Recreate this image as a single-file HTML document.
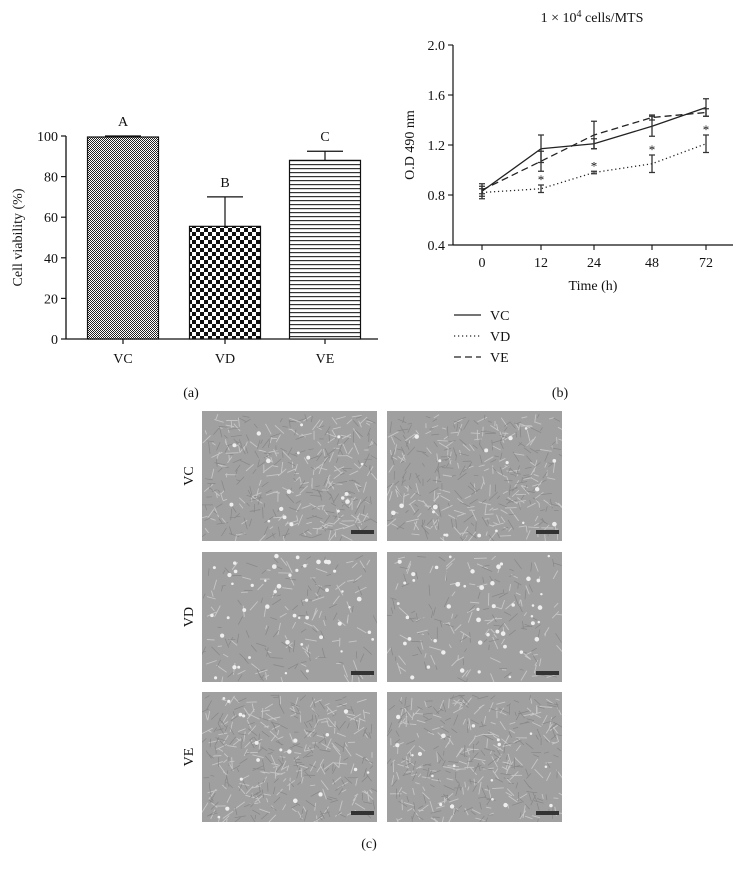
<!DOCTYPE html>
<html><head><meta charset="utf-8">
<style>
body{margin:0;background:#fff;}
svg text{font-family:"Liberation Serif",serif;fill:#111;}
</style></head>
<body>
<svg id="root" width="745" height="877" viewBox="0 0 745 877" xmlns="http://www.w3.org/2000/svg">
<defs>
<pattern id="pVC" width="2" height="2" patternUnits="userSpaceOnUse"><rect width="2" height="2" fill="#fff"/><rect width="1" height="1" fill="#222"/><rect x="1" y="1" width="1" height="1" fill="#222"/></pattern>
<pattern id="pVD" width="8" height="8" patternUnits="userSpaceOnUse"><rect width="8" height="8" fill="#fff"/><rect width="4" height="4" fill="#111"/><rect x="4" y="4" width="4" height="4" fill="#111"/></pattern>
<pattern id="pVE" width="4" height="4" patternUnits="userSpaceOnUse"><rect width="4" height="4" fill="#fff"/><rect y="0" width="4" height="1.2" fill="#333"/></pattern>
</defs>
<g id="barChart"></g>
<g id="lineChart"></g>
<text x="191" y="397" font-size="14" text-anchor="middle">(a)</text>
<text x="560" y="397" font-size="14" text-anchor="middle">(b)</text>
<text x="369" y="848" font-size="14" text-anchor="middle">(c)</text>
<g id="photos"></g>
</svg>
<script>
const NS="http://www.w3.org/2000/svg";
function mk(p,tag,a,txt){const e=document.createElementNS(NS,tag);for(const k in a)e.setAttribute(k,a[k]);if(txt!==undefined)e.textContent=txt;p.appendChild(e);return e;}

// ---- Bar chart data ----
const barCats=["VC","VD","VE"];
const barVals=[99.5,55.5,88];
const barErr=[0.5,14.5,4.5];
const barLetters=["A","B","C"];
const barTicks=[0,20,40,60,80,100];
const barFills=["url(#pVC)","url(#pVD)","url(#pVE)"];

// ---- Line chart data ----
const timeCats=["0","12","24","48","72"];
const vcVals=[0.83,1.17,1.21,1.35,1.50];
const vcErr=[0.06,0.11,0.04,0.08,0.07];
const vdVals=[0.82,0.85,0.98,1.05,1.21];
const vdErr=[0.03,0.03,0.01,0.07,0.07];
const veVals=[0.84,1.07,1.28,1.42,1.46];
const veErr=[0.03,0.08,0.11,0.02,0.03];
const vdStar=[false,true,true,true,true];
const odTicks=[0.4,0.8,1.2,1.6,2.0];

// bar chart
(function(){
  const g=document.getElementById('barChart');
  const x0=66,x1=378,yB=339,yT=136;
  const y=v=>yB-(v/100)*(yB-yT);
  const centers=[123,225,325],bw=71;
  mk(g,'line',{x1:x0,y1:yB,x2:x1,y2:yB,stroke:'#111','stroke-width':1.3,});
  mk(g,'line',{x1:x0,y1:yB,x2:x0,y2:yT,stroke:'#111','stroke-width':1.3,});
  barTicks.forEach(t=>{
    mk(g,'line',{x1:x0-5,y1:y(t),x2:x0,y2:y(t),stroke:'#111','stroke-width':1.2});
    const tx=mk(g,'text',{x:x0-8,y:y(t)+5,'font-size':14,'text-anchor':'end'},String(t));
    
    
  });
  const yt=mk(g,'text',{x:22,y:(yB+yT)/2,'font-size':14,'text-anchor':'middle',transform:`rotate(-90 22 ${(yB+yT)/2})`},'Cell viability (%)');
  
  
  barCats.forEach((c,i)=>{
    const cx=centers[i];
    mk(g,'line',{x1:cx,y1:yB,x2:cx,y2:yB+5,stroke:'#111','stroke-width':1.2});
    const tl=mk(g,'text',{x:cx,y:yB+24,'font-size':14,'text-anchor':'middle'},c);
    
    
    const r=mk(g,'rect',{x:cx-bw/2,y:y(barVals[i]),width:bw,height:yB-y(barVals[i]),fill:barFills[i],stroke:'#111','stroke-width':1.2});
    
    
    const top=y(barVals[i]+barErr[i]);
    mk(g,'line',{x1:cx,y1:y(barVals[i]),x2:cx,y2:top,stroke:'#111','stroke-width':1.2});
    mk(g,'line',{x1:cx-18,y1:top,x2:cx+18,y2:top,stroke:'#111','stroke-width':1.2});
    const lt=mk(g,'text',{x:cx,y:top-10,'font-size':14,'text-anchor':'middle'},barLetters[i]);
    
    
  });
})();

// line chart
(function(){
  const g=document.getElementById('lineChart');
  const x0=453,x1=733,yB=245,yT=45;
  const y=v=>yB-(v-0.4)/1.6*(yB-yT);
  const xs=[482,541,594,652,706];
  mk(g,'line',{x1:x0,y1:yB,x2:x1,y2:yB,stroke:'#111','stroke-width':1.2,});
  mk(g,'line',{x1:x0,y1:yB,x2:x0,y2:yT,stroke:'#111','stroke-width':1.2,});
  odTicks.forEach(t=>{
    mk(g,'line',{x1:x0-5,y1:y(t),x2:x0,y2:y(t),stroke:'#111','stroke-width':1.1});
    const tx=mk(g,'text',{x:x0-8,y:y(t)+5,'font-size':14,'text-anchor':'end'},t.toFixed(1));
    
    
  });
  timeCats.forEach((c,i)=>{
    mk(g,'line',{x1:xs[i],y1:yB,x2:xs[i],y2:yB+5,stroke:'#111','stroke-width':1.1});
    const tl=mk(g,'text',{x:xs[i],y:yB+22,'font-size':14,'text-anchor':'middle'},c);
    
    
  });
  const xt=mk(g,'text',{x:593,y:290,'font-size':14,'text-anchor':'middle'},'Time (h)');
  
  
  const yt=mk(g,'text',{x:414,y:(yB+yT)/2,'font-size':14,'text-anchor':'middle',transform:`rotate(-90 414 ${(yB+yT)/2})`},'O.D 490 nm');
  
  
  const tt=mk(g,'text',{x:592,y:22,'font-size':14,'text-anchor':'middle'});
  
  
  tt.innerHTML='1 × 10<tspan dy="-5" font-size="10">4</tspan><tspan dy="5"> cells/MTS</tspan>';
  const series=[[vcVals,vcErr,'','vc'],[vdVals,vdErr,'1.2 2.8','vd'],[veVals,veErr,'7 4','ve']];
  series.forEach(([vals,err,dash,nm])=>{
    const pts=vals.map((v,i)=>xs[i]+','+y(v)).join(' ');
    const pl=mk(g,'polyline',{points:pts,fill:'none',stroke:'#222','stroke-width':1.3,'stroke-dasharray':dash});
    
    
    vals.forEach((v,i)=>{
      const a=y(v+err[i]),b=y(v-err[i]);
      const eg=mk(g,'path',{d:`M${xs[i]},${a}V${b}M${xs[i]-3},${a}H${xs[i]+3}M${xs[i]-3},${b}H${xs[i]+3}`,stroke:'#333','stroke-width':1.3,fill:'none'});
      
      
    });
  });
  vdVals.forEach((v,i)=>{
    if(!vdStar[i])return;
    const s=mk(g,'text',{x:xs[i],y:y(v+vdErr[i])-1,'font-size':13,'text-anchor':'middle',fill:'#444'},'*');
    
    
  });
  const leg=[['VC','',315],['VD','1.2 2.8',336],['VE','7 4',357]];
  leg.forEach(([n,d,ly])=>{
    const lg=mk(g,'g',{});
    
    
    mk(lg,'line',{x1:454,y1:ly,x2:481,y2:ly,stroke:'#222','stroke-width':1.3,'stroke-dasharray':d});
    mk(lg,'text',{x:490,y:ly+5,'font-size':14},n);
  });
})();

// micrographs (decorative texture)
(function(){
  const g=document.getElementById('photos');
  const defs=document.querySelector('defs');
  const cols=[202,387],rows=[411,552,692],w=175,h=130;
  const rowNames=["VC","VD","VE"];
  let seed=7;const rnd=()=>{seed=(seed*16807)%2147483647;return seed/2147483647;};
  rows.forEach((ry,ri)=>{
    const rl=mk(g,'text',{x:193,y:ry+h/2,'font-size':14,'text-anchor':'middle',transform:`rotate(-90 193 ${ry+h/2})`},rowNames[ri]);
    
    
    cols.forEach((cx,ci)=>{
      const cid='clip'+ri+ci;
      const cp=mk(defs,'clipPath',{id:cid});
      mk(cp,'rect',{x:cx,y:ry,width:w,height:h});
      const pg=mk(g,'g',{'clip-path':`url(#${cid})`});
      
      
      mk(pg,'rect',{x:cx,y:ry,width:w,height:h,fill:'#a0a0a0'});
      let d='';
      const n=ri===1?90:200;
      for(let k=0;k<n;k++){
        const px=cx+3+rnd()*(w-6),py=ry+3+rnd()*(h-6),a=rnd()*Math.PI,l=4+rnd()*9;
        d+=`M${px.toFixed(1)},${py.toFixed(1)}l${(Math.cos(a)*l).toFixed(1)},${(Math.sin(a)*l).toFixed(1)}`;
      }
      mk(pg,'path',{d:d,stroke:'#cfcfcf','stroke-width':0.9,fill:'none',opacity:0.8});
      let d2='';
      for(let k=0;k<n;k++){
        const px=cx+3+rnd()*(w-6),py=ry+3+rnd()*(h-6),a=rnd()*Math.PI,l=4+rnd()*8;
        d2+=`M${px.toFixed(1)},${py.toFixed(1)}l${(Math.cos(a)*l).toFixed(1)},${(Math.sin(a)*l).toFixed(1)}`;
      }
      mk(pg,'path',{d:d2,stroke:'#777','stroke-width':0.7,fill:'none',opacity:0.6});
      const nd=ri===1?45:18;
      for(let k=0;k<nd;k++){
        mk(pg,'circle',{cx:cx+4+rnd()*(w-8),cy:ry+4+rnd()*(h-8),r:1.2+rnd()*1.2,fill:'#eee'});
      }
      mk(pg,'rect',{x:cx+w-26,y:ry+h-11,width:23,height:4,fill:'#333'});
    });
  });
})();
</script>
</body></html>
